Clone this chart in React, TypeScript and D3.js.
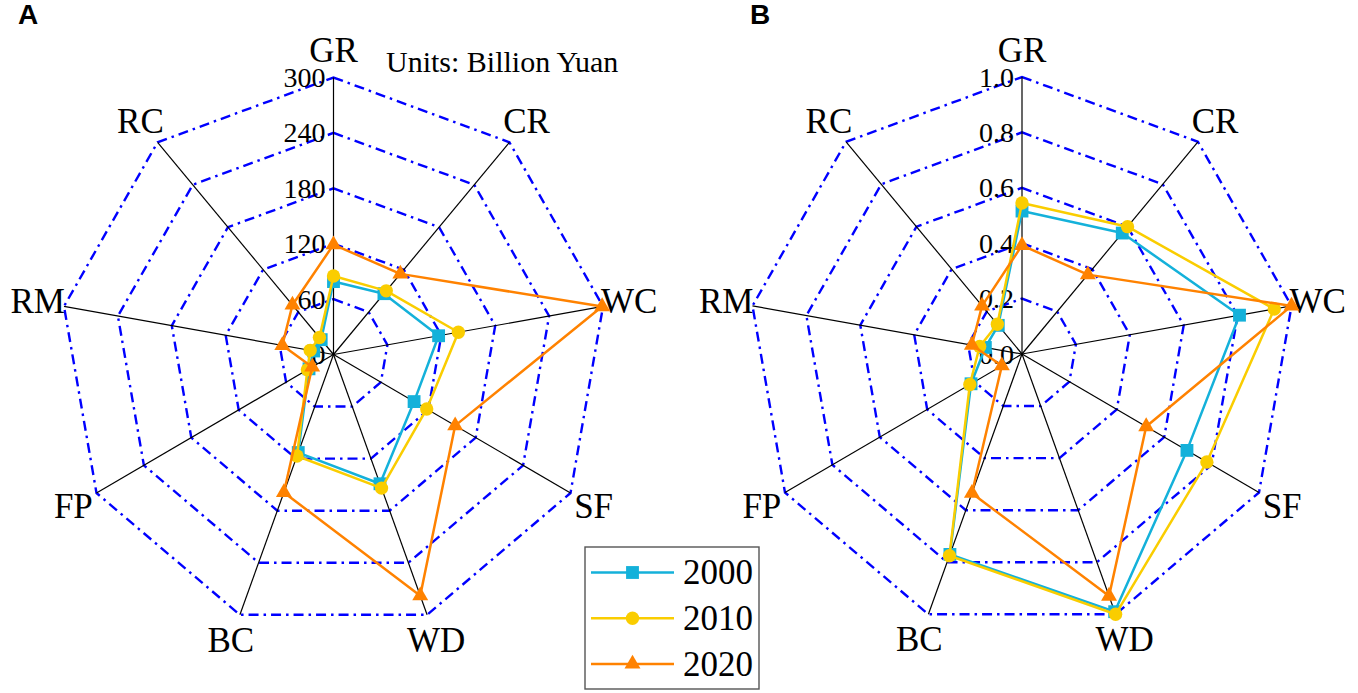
import React from 'react';
import * as d3 from 'd3';

const axes = ['GR', 'CR', 'WC', 'SF', 'WD', 'BC', 'FP', 'RM', 'RC'];
const years = ['2000', '2010', '2020'];

// Panel A (Billion Yuan)
const a2000 = [79, 86, 117, 102, 149, 113, 31, 22, 21];
const a2010 = [85, 90, 139, 118, 154, 117, 33, 26, 24];
const a2020 = [119, 114, 299, 154, 278, 159, 27, 57, 70];

// Panel B (normalized)
const b2000 = [0.516, 0.57, 0.807, 0.696, 0.99, 0.77, 0.215, 0.136, 0.135];
const b2010 = [0.545, 0.6, 0.936, 0.78, 1.0, 0.775, 0.22, 0.157, 0.14];
const b2020 = [0.392, 0.374, 1.0, 0.524, 0.93, 0.535, 0.085, 0.186, 0.227];

const ticksA = [0, 60, 120, 180, 240, 300];
const tickLabelsA = ['0', '60', '120', '180', '240', '300'];
const ticksB = [0, 0.2, 0.4, 0.6, 0.8, 1.0];
const tickLabelsB = ['0.0', '0.2', '0.4', '0.6', '0.8', '1.0'];

const colors = ['#14B1DA', '#FACD00', '#FF8200'];
const symbols = [d3.symbolSquare, d3.symbolCircle, d3.symbolTriangle];
const symbolSizes = [165, 140, 110];

const W = 1358;
const H = 693;
const R = 277;
const KX = 0.988;
const serif = "'Liberation Serif', 'Times New Roman', serif";

type PanelProps = {
  cx: number;
  cy: number;
  maxV: number;
  ticks: number[];
  tickLabels: string[];
  series: number[][];
};

function Panel({ cx, cy, maxV, ticks, tickLabels, series }: PanelProps) {
  const rScale = d3.scaleLinear().domain([0, maxV]).range([0, R]);
  const angle = d3.scaleLinear().domain([0, axes.length]).range([90, 90 - 360]);
  const pt = (r: number, i: number): [number, number] => {
    const a = (angle(i) * Math.PI) / 180;
    return [cx + r * Math.cos(a) * KX, cy - r * Math.sin(a)];
  };
  const line = d3
    .line<[number, number]>()
    .x((d) => d[0])
    .y((d) => d[1])
    .curve(d3.curveLinearClosed);

  const rings = ticks.filter((t) => t > 0);

  return (
    <g>
      {rings.map((t, k) => (
        <path
          key={'ring' + k}
          d={line(axes.map((_, i) => pt(rScale(t), i))) || ''}
          fill="none"
          stroke="#0000FF"
          strokeWidth={2.4}
          strokeDasharray="10,5,2.5,5"
        />
      ))}
      {axes.map((_, i) => {
        const [x, y] = pt(R, i);
        return <line key={'ax' + i} x1={cx} y1={cy} x2={x} y2={y} stroke="#000" strokeWidth={1.2} />;
      })}
      {ticks.map((t, k) => (
        <text
          key={'tk' + k}
          x={cx - 8}
          y={cy - rScale(t)}
          textAnchor="end"
          dominantBaseline="central"
          fontFamily={serif}
          fontSize={28}
          fill="#000"
        >
          {tickLabels[k]}
        </text>
      ))}
      {axes.map((name, i) => {
        const [x, y] = pt(304, i);
        return (
          <text
            key={'lab' + i}
            x={x}
            y={y}
            textAnchor="middle"
            dominantBaseline="central"
            fontFamily={serif}
            fontSize={35}
            fill="#000"
          >
            {name}
          </text>
        );
      })}
      {series.map((vals, s) => {
        const pts = vals.map((v, i) => pt(rScale(v), i));
        const sym = d3.symbol().type(symbols[s]).size(symbolSizes[s])() || '';
        return (
          <g key={'s' + s}>
            <path d={line(pts) || ''} fill="none" stroke={colors[s]} strokeWidth={2.5} strokeLinejoin="round" />
            {pts.map((p, i) => (
              <path key={i} d={sym} transform={`translate(${p[0]},${p[1]})`} fill={colors[s]} />
            ))}
          </g>
        );
      })}
    </g>
  );
}

function Legend({ x, y }: { x: number; y: number }) {
  const rowY = d3.scalePoint<string>().domain(years).range([y + 25.5, y + 117]);
  return (
    <g>
      <rect x={x} y={y} width={174} height={142} fill="#fff" stroke="#555" strokeWidth={1.4} />
      {years.map((yr, s) => {
        const yy = rowY(yr) as number;
        const sym = d3.symbol().type(symbols[s]).size(symbolSizes[s])() || '';
        return (
          <g key={yr}>
            <line x1={x + 6} x2={x + 89} y1={yy} y2={yy} stroke={colors[s]} strokeWidth={2.5} />
            <path d={sym} transform={`translate(${x + 47.5},${yy})`} fill={colors[s]} />
            <text x={x + 98} y={yy} dominantBaseline="central" fontFamily={serif} fontSize={35} fill="#000">
              {yr}
            </text>
          </g>
        );
      })}
    </g>
  );
}

export default function App() {
  return (
    <svg
      width={W}
      height={H}
      viewBox={`0 0 ${W} ${H}`}
      style={{ position: 'absolute', left: 0, top: 0, background: '#fff' }}
    >
      <rect width={W} height={H} fill="#fff" />
      <Panel cx={333.5} cy={354.5} maxV={300} ticks={ticksA} tickLabels={tickLabelsA} series={[a2000, a2010, a2020]} />
      <Panel cx={1022} cy={354} maxV={1} ticks={ticksB} tickLabels={tickLabelsB} series={[b2000, b2010, b2020]} />
      <text x={386} y={72} fontFamily={serif} fontSize={30} fill="#000">
        Units: Billion Yuan
      </text>
      <text x={18} y={24} fontFamily="'Liberation Sans', Arial, sans-serif" fontWeight="bold" fontSize={28} fill="#000">
        A
      </text>
      <text x={750} y={24} fontFamily="'Liberation Sans', Arial, sans-serif" fontWeight="bold" fontSize={28} fill="#000">
        B
      </text>
      <Legend x={585} y={547} />
    </svg>
  );
}
